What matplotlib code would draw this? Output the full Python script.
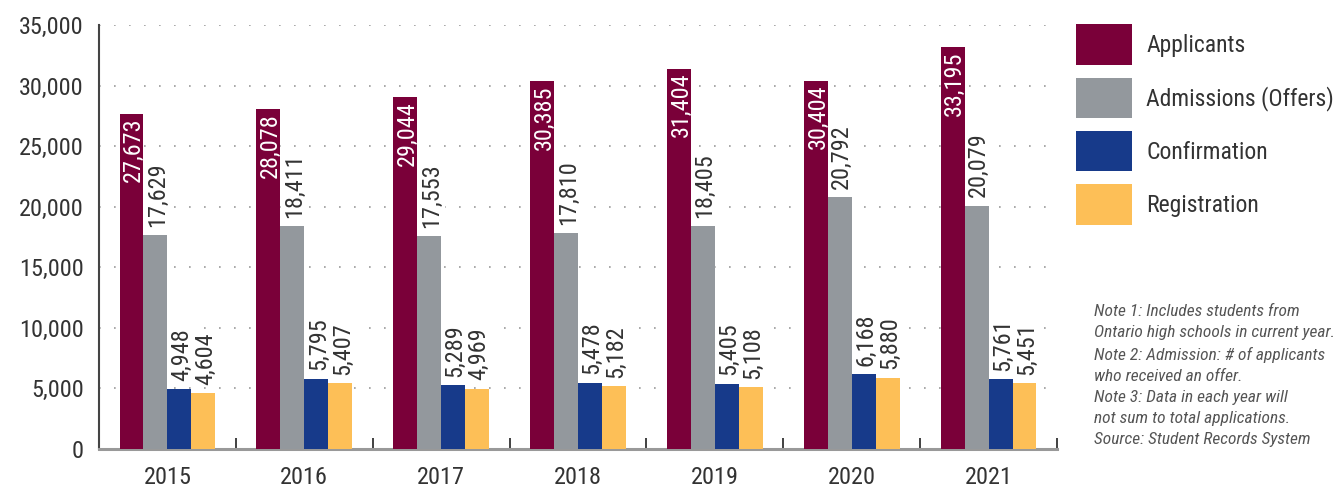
import matplotlib
matplotlib.use("Agg")
import matplotlib.pyplot as plt
from matplotlib.patches import Patch
from matplotlib.ticker import FuncFormatter, FixedLocator
import numpy as np

years = ["2015", "2016", "2017", "2018", "2019", "2020", "2021"]
applicants = [27673, 28078, 29044, 30385, 31404, 30404, 33195]
admissions = [17629, 18411, 17553, 17810, 18405, 20792, 20079]
confirmation = [4948, 5795, 5289, 5478, 5405, 6168, 5761]
registration = [4604, 5407, 4969, 5182, 5108, 5880, 5451]
series_names = ["Applicants", "Admissions (Offers)", "Confirmation", "Registration"]
colors = ["#7a0039", "#93989d", "#173a8a", "#fdbf57"]
notes = ("Note 1: Includes students from\n"
         "Ontario high schools in current year.\n"
         "Note 2: Admission: # of applicants\n"
         "who received an offer.\n"
         "Note 3: Data in each year will\n"
         "not sum to total applications.\n"
         "Source: Student Records System")

plt.rcParams['font.family'] = ["Roboto Condensed", "DejaVu Sans"]
TXT = "#333333"

fig = plt.figure(figsize=(13.39, 4.92), dpi=100)
ax = fig.add_axes([99/1339, 1-449/492, (1057-99)/1339, (449-25)/492])

x = np.arange(len(years))
bw = 0.175
all_series = [applicants, admissions, confirmation, registration]
for i, (vals, c) in enumerate(zip(all_series, colors)):
    xs = x + (i - 1.5) * bw
    ax.bar(xs, vals, width=bw, color=c, zorder=3, linewidth=0)
    for xx, v in zip(xs, vals):
        lab = f"{v:,}"
        if i == 0:
            ax.annotate(lab, (xx, v), xytext=(1.5, -3), textcoords="offset points",
                        rotation=90, ha="center", va="top", color="white",
                        fontsize=17.5, zorder=5)
        else:
            ax.annotate(lab, (xx, v), xytext=(1.5, 6), textcoords="offset points",
                        rotation=90, ha="center", va="bottom", color=TXT,
                        fontsize=17.5, zorder=5,
                        bbox=dict(boxstyle="square,pad=0.08", fc="white", ec="none"))

ax.set_xlim(-0.5, len(years) - 0.5)
ax.set_ylim(0, 35000)
ax.yaxis.set_major_locator(FixedLocator(np.arange(0, 35001, 5000)))
ax.yaxis.set_major_formatter(FuncFormatter(lambda v, p: f"{int(v):,}"))
ax.grid(axis="y", color="#9a9a9a", linestyle=(0, (1, 8)), linewidth=1.2, zorder=1)
ax.set_axisbelow(True)

ax.set_xticks(x)
ax.set_xticklabels(years)
ax.set_xticks(np.arange(-0.5, len(years)), minor=True)
ax.tick_params(axis="x", which="major", length=0, pad=12, labelsize=17.5, labelcolor=TXT)
ax.tick_params(axis="x", which="minor", length=8, width=1.3, direction="in", color="#333333")
ax.tick_params(axis="y", length=0, pad=11, labelsize=17.5, labelcolor=TXT)

for s in ["top", "right"]:
    ax.spines[s].set_visible(False)
ax.spines["left"].set_color("#444444")
ax.spines["left"].set_linewidth(1.5)
ax.spines["bottom"].set_color("#999999")
ax.spines["bottom"].set_linewidth(2.2)

handles = [Patch(facecolor=c, edgecolor="none") for c in colors]
fig.legend(handles, series_names, loc="upper left", bbox_to_anchor=(1067/1339, 1-15/492),
           frameon=False, fontsize=17, handlelength=2.35, handleheight=2.25,
           handletextpad=0.6, labelspacing=0.55, labelcolor=TXT, borderaxespad=0)

fig.text(1094/1339, 1-304/492, notes, ha="left", va="top", fontsize=12.5,
         style="italic", color="#555555", linespacing=1.5)

fig.savefig("out.png", dpi=100)
